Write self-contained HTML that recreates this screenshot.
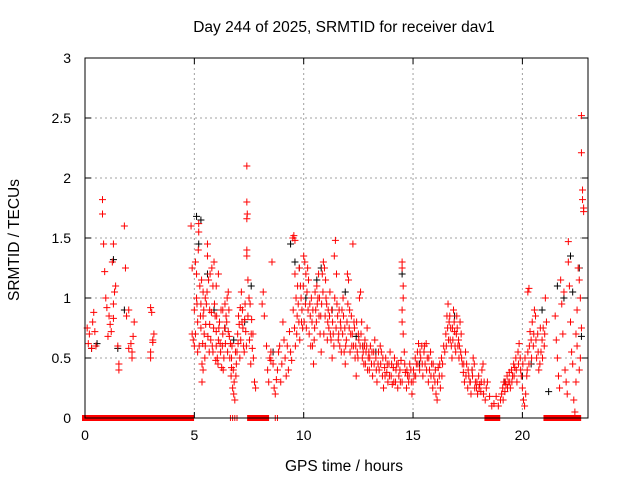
<!DOCTYPE html>
<html><head><meta charset="utf-8"><style>
body{margin:0;background:#fff}
svg{display:block;font-family:"Liberation Sans",sans-serif}
</style></head><body>
<svg id="chart" width="640" height="480" viewBox="0 0 640 480">
<text x="344" y="32" font-size="15.5" text-anchor="middle">Day 244 of 2025, SRMTID for receiver dav1</text>
<text x="344" y="471" font-size="15.5" text-anchor="middle">GPS time / hours</text>
<text transform="translate(19,240) rotate(-90)" font-size="15.5" text-anchor="middle">SRMTID / TECUs</text>
<g id="grid"></g>
<g id="marks"></g>
<rect x="85" y="58" width="503" height="360" fill="none" stroke="#000" stroke-width="1"/>
<g id="ticks"></g>
</svg>
<script>
const xTicks=[0,5,10,15,20];
const yTicks=[0,0.5,1,1.5,2,2.5,3];
const yTickLabels=["0","0.5","1","1.5","2","2.5","3"];
const redT=[0.1,0.2,0.3,0.35,0.4,0.45,0.5,0.15,0.8,0.8,0.85,0.9,0.95,1.0,1.1,1.15,1.2,1.25,1.3,1.3,1.35,1.4,1.5,1.55,1.55,1.3,1.05,1.8,1.85,1.9,2.0,2.1,2.15,2.15,2.2,2.25,2.0,3.0,3.05,3.1,3.1,3.0,3.0,3.15,
4.85,4.9,4.9,4.95,5.0,5.0,5.05,5.1,5.1,5.15,5.15,5.2,5.2,5.25,5.3,5.3,5.35,5.35,5.4,5.4,5.45,5.5,5.5,5.55,5.6,5.6,5.65,5.7,5.7,5.75,5.8,5.85,5.85,5.9,5.95,6.0,6.0,6.05,6.1,6.15,6.2,6.25,6.3,6.35,6.4,6.45,6.5,6.55,6.6,6.65,6.7,6.75,6.8,6.85,6.9,6.95,7.0,7.05,7.1,7.15,7.2,7.25,7.3,7.35,7.4,7.45,7.5,7.55,7.6,7.65,7.7,7.75,7.8,7.4,7.4,7.42,7.4,7.4,6.0,6.1,5.4,6.7,6.3,6.55,
8.1,8.15,8.2,8.3,8.35,8.4,8.45,8.5,8.55,8.5,8.6,8.65,8.7,8.75,8.8,8.85,8.9,8.95,9.0,9.05,9.1,9.15,9.2,9.25,9.3,9.35,9.4,9.45,9.5,9.55,9.6,9.6,9.65,9.7,9.75,9.8,9.85,9.9,9.95,10.0,10.05,10.1,10.15,10.2,10.25,10.3,10.35,10.4,10.45,10.5,10.55,10.6,10.65,10.7,10.75,10.8,10.85,10.9,10.95,11.0,11.05,11.1,11.15,11.2,11.25,11.3,11.35,11.4,11.45,11.5,11.55,11.6,11.65,11.7,11.75,11.8,11.85,11.9,11.95,12.0,12.05,12.1,12.15,12.2,12.25,12.3,12.35,12.4,12.45,12.5,12.55,12.6,12.65,12.7,12.75,12.8,12.85,12.9,12.95,13.0,13.05,13.1,13.15,13.2,13.25,13.3,13.35,13.4,13.45,13.5,13.55,13.6,13.65,13.7,13.75,13.8,13.85,13.9,13.95,14.0,14.05,14.1,14.15,14.2,14.25,14.3,14.35,14.4,14.45,14.5,14.55,14.5,14.5,14.55,14.5,14.5,14.55,14.6,14.65,14.7,14.75,14.8,14.85,14.9,14.95,15.0,15.05,15.1,15.15,15.2,15.25,15.3,15.35,15.4,15.45,15.5,15.55,15.6,15.65,15.7,15.75,15.8,15.85,15.9,15.95,16.0,16.05,16.1,16.15,16.2,16.25,16.3,16.35,16.4,16.45,16.5,16.55,16.6,16.65,16.7,16.75,16.8,16.85,16.9,16.95,17.0,17.05,17.1,17.15,17.2,17.25,17.3,17.35,17.4,17.45,17.5,17.55,17.6,17.65,17.7,17.75,17.8,17.85,17.9,17.95,18.0,18.05,18.1,18.15,18.2,18.25,18.3,18.35,18.4,18.5,18.6,18.7,18.8,18.9,19.0,19.05,19.1,19.15,19.2,19.25,19.3,19.35,19.4,19.45,19.5,19.55,19.6,19.65,19.7,19.75,19.8,19.85,19.9,19.95,20.0,20.05,20.1,20.15,20.2,20.25,20.3,20.35,20.4,20.45,20.5,20.55,20.6,20.65,20.7,20.75,20.8,20.85,20.9,20.95,21.0,21.05,21.1,20.3,20.25,
21.5,21.55,21.6,21.65,21.7,21.75,21.8,21.85,21.9,21.95,22.0,22.05,22.1,22.1,22.15,22.2,22.25,22.3,22.35,22.4,22.45,22.5,22.55,22.6,22.65,22.7,22.7,22.7,22.75,22.75,22.8,22.8,22.65,22.6,22.5,22.45];
const redV=[0.75,0.7,0.58,0.8,0.88,0.72,0.6,0.62,1.82,1.7,1.45,1.22,1.0,0.92,0.85,0.78,0.72,1.3,1.45,0.95,1.05,1.1,0.6,0.4,0.45,0.83,0.68,1.6,1.25,0.85,0.58,0.62,0.55,0.5,0.68,0.8,0.9,0.92,0.88,0.65,0.63,0.55,0.5,0.7,
1.6,1.25,0.7,0.65,0.9,0.6,1.3,1.2,1.0,0.8,0.55,1.62,1.55,1.1,0.95,0.75,0.45,0.3,1.05,0.85,0.7,0.6,1.0,0.95,1.45,1.35,1.15,0.9,0.78,0.65,1.25,1.1,0.55,1.3,0.85,0.6,0.72,0.5,0.65,0.8,0.55,0.42,0.7,0.5,0.95,0.85,1.0,0.72,0.68,0.62,0.42,0.25,0.2,0.15,0.35,0.55,0.62,0.78,0.92,1.05,0.9,0.6,0.82,0.72,1.35,1.15,1.0,0.95,0.7,0.58,0.5,0.3,0.25,1.4,1.66,1.7,1.8,2.1,1.1,1.2,0.4,0.5,0.9,1.05,
0.95,1.05,0.85,0.6,0.4,0.3,0.5,0.55,1.3,0.48,0.45,0.25,0.2,0.32,0.4,0.55,0.6,0.3,0.45,0.8,0.65,0.5,0.35,0.6,0.4,0.72,0.55,0.48,1.5,1.52,1.48,1.2,1.0,0.85,0.95,1.25,1.1,0.8,0.75,1.35,1.3,1.2,1.05,0.9,0.7,0.85,1.0,0.6,0.45,0.75,0.9,1.1,1.0,0.85,0.7,0.55,1.2,1.3,1.25,1.15,0.95,0.8,0.75,1.05,0.65,0.5,0.7,1.35,1.48,1.2,0.85,0.7,0.6,0.75,0.9,1.0,0.55,0.45,0.65,1.2,1.15,0.9,0.7,0.6,1.45,0.8,0.5,0.35,0.55,0.7,1.0,1.05,0.8,0.6,0.45,0.65,0.55,0.75,0.5,0.4,0.6,0.45,0.35,0.55,0.65,0.5,0.3,0.45,0.4,0.6,0.55,0.35,0.25,0.42,0.5,0.38,0.3,0.45,0.55,0.35,0.28,0.42,0.5,0.3,0.45,0.25,0.35,0.4,0.48,0.3,0.7,0.8,0.9,1.0,1.3,1.25,1.1,0.55,0.38,0.25,0.35,0.3,0.45,0.4,0.2,0.3,0.35,0.5,0.45,0.55,0.62,0.4,0.5,0.6,0.35,0.55,0.45,0.62,0.5,0.3,0.4,0.55,0.45,0.25,0.35,0.3,0.2,0.15,0.42,0.35,0.25,0.5,0.45,0.6,0.55,0.7,0.85,0.95,0.8,0.65,0.6,0.75,0.9,0.72,0.55,0.85,0.6,0.5,0.8,0.7,0.45,0.38,0.3,0.55,0.45,0.25,0.35,0.3,0.2,0.4,0.5,0.45,0.3,0.25,0.2,0.35,0.28,0.22,0.4,0.45,0.3,0.15,0.25,0.3,0.18,0.1,0.12,0.18,0.1,0.15,0.2,0.25,0.3,0.22,0.28,0.35,0.3,0.38,0.25,0.4,0.35,0.45,0.42,0.5,0.3,0.55,0.62,0.5,0.35,0.25,0.15,0.1,0.2,0.35,0.55,0.45,0.72,0.65,0.8,0.6,0.9,0.85,0.5,0.7,0.4,0.45,0.55,0.65,0.75,0.6,1.0,0.8,1.08,1.05,
0.85,0.65,0.5,0.35,0.25,1.15,0.95,0.7,1.05,0.4,0.3,0.2,1.3,1.47,1.1,0.8,0.55,0.45,0.15,0.05,0.7,0.9,1.25,1.15,1.0,0.75,2.52,2.21,1.9,1.82,1.75,1.72,0.5,0.4,0.6,0.3];
const redT2=[5.05,5.12,5.18,5.22,5.28,5.33,5.38,5.43,5.48,5.52,5.58,5.62,5.68,5.72,5.78,5.82,5.88,5.92,5.98,6.02,6.08,6.12,6.18,6.22,6.28,6.32,6.38,6.42,6.48,6.52,6.58,6.62,6.68,6.72,6.78,6.82,6.88,6.92,6.98,7.02,7.08,7.12,7.18,7.22,7.28,7.32,7.38,7.45,7.52,7.58,7.62,7.68,
9.52,9.58,9.62,9.68,9.72,9.78,9.82,9.88,9.92,9.98,10.02,10.08,10.12,10.18,10.22,10.28,10.32,10.38,10.42,10.48,10.52,10.58,10.62,10.68,10.72,10.78,10.82,10.88,10.92,10.98,11.02,11.08,11.12,11.18,11.22,11.28,11.32,11.38,11.42,11.48,11.52,11.58,11.62,11.68,11.72,11.78,11.82,11.88,11.92,11.98,12.02,12.08,12.12,12.18,12.22,12.28,12.32,12.38,12.42,12.48,12.52,12.58,12.62,12.68,12.72,12.78,12.82,12.88,12.92,12.98,
13.02,13.12,13.22,13.32,13.42,13.52,13.62,13.72,13.82,13.92,14.02,14.12,14.22,14.32,14.42,14.62,14.72,14.82,14.92,15.02,15.12,15.22,15.32,15.42,15.52,15.62,15.72,15.82,15.92,16.02,16.12,16.22,16.32,
16.52,16.58,16.62,16.68,16.72,16.78,16.82,16.88,16.92,16.98,17.02,17.08,17.12,17.18,17.22,17.32,17.42,17.52,17.62,17.72,17.82,17.92,18.02,18.12,18.22,
19.12,19.22,19.32,19.42,19.52,19.62,19.72,19.82,19.92,20.02,20.12,20.22,20.32,20.42,20.52,20.62,20.72,20.82,20.92,21.02];
const redV2=[0.7,0.95,1.4,0.6,0.85,1.15,0.62,0.9,0.5,0.78,1.05,0.68,0.55,1.2,0.88,0.6,0.75,0.95,0.48,0.85,0.45,0.75,0.62,0.9,0.6,0.4,0.75,0.62,0.8,0.55,0.9,0.5,0.35,0.6,0.4,0.3,0.55,0.45,0.7,0.85,0.5,0.65,0.8,0.75,0.55,0.95,0.6,0.85,0.65,0.45,0.82,0.7,
0.9,0.75,0.6,0.7,1.1,0.8,0.65,1.0,0.9,1.1,0.8,0.95,0.75,1.25,1.15,0.95,0.6,0.8,0.9,0.65,1.05,0.8,0.95,1.2,1.0,0.85,0.95,1.05,0.7,0.85,1.0,0.65,0.9,0.85,0.7,0.9,0.8,0.6,1.0,0.75,0.95,0.65,0.9,0.8,0.55,0.7,0.85,0.75,0.6,0.8,0.95,0.75,0.55,0.85,0.7,0.6,0.75,0.6,0.8,0.5,0.65,0.6,0.7,0.5,0.55,0.6,0.45,0.6,0.4,0.55,
0.5,0.55,0.45,0.4,0.55,0.45,0.5,0.35,0.45,0.35,0.45,0.3,0.4,0.45,0.3,0.45,0.4,0.35,0.3,0.4,0.35,0.45,0.55,0.45,0.6,0.4,0.5,0.35,0.45,0.4,0.3,0.45,0.35,
0.6,0.75,0.65,0.85,0.75,0.5,0.65,0.8,0.6,0.7,0.75,0.65,0.6,0.55,0.5,0.45,0.35,0.4,0.3,0.35,0.25,0.3,0.25,0.3,0.2,
0.15,0.3,0.25,0.3,0.3,0.35,0.4,0.45,0.4,0.45,0.5,0.4,0.6,0.5,0.7,0.65,0.55,0.75,0.5,0.7];
const blackT=[0.3,0.55,1.3,1.5,1.8,5.1,5.2,5.3,5.6,5.9,6.4,6.8,7.3,7.6,8.6,9.4,9.6,9.8,10.1,10.6,10.8,11.3,11.9,12.4,12.7,13.3,13.9,14.5,15.3,16.9,17.7,19.2,20.0,20.4,20.9,21.2,21.6,21.9,22.2,22.3,22.6,22.7];
const blackV=[0.58,0.62,1.32,0.58,0.9,1.68,1.45,1.65,1.2,0.9,0.75,0.65,0.8,1.1,0.55,1.45,1.3,1.25,1.0,1.15,1.25,0.9,1.05,0.68,0.6,0.55,0.45,1.2,0.45,0.85,0.4,0.3,0.35,0.45,0.9,0.22,1.1,1.0,1.35,1.05,1.25,0.68];
const zeroStart=[0,0.41,1.51,2.33,3.38,4.53,6.65,6.75,6.85,6.95,7.55,8.7,8.8,18.4,21.1,22.1];
const zeroEnd=[0.32,1.46,2.19,3.29,4.34,4.85,6.65,6.75,6.85,6.95,8.28,8.7,8.8,18.85,21.9,22.55];
const NS="http://www.w3.org/2000/svg";
const X0=85,X1=588,Y0=418,Y1=58,XMAX=23,YMAX=3;
const sx=t=>X0+t/XMAX*(X1-X0);
const sy=v=>Y0-v/YMAX*(Y0-Y1);
function mk(tag,attrs,parent){const e=document.createElementNS(NS,tag);for(const k in attrs)e.setAttribute(k,attrs[k]);parent.appendChild(e);return e;}
const grid=document.getElementById('grid'),ticks=document.getElementById('ticks'),marks=document.getElementById('marks');
xTicks.forEach(t=>{
  if(t>0){const g=mk('line',{x1:sx(t),x2:sx(t),y1:Y1,y2:Y0,stroke:'#a0a0a0','stroke-dasharray':'2,3'},grid);
  
  }
  const tk=mk('path',{d:`M${sx(t)},${Y0}v-6M${sx(t)},${Y1}v6`,stroke:'#000'},ticks);
  
  
  const lb=mk('text',{x:sx(t),y:Y0+22,'font-size':14,'text-anchor':'middle'},ticks);
  lb.textContent=t;
  
  
});
yTicks.forEach((v,i)=>{
  if(v>0&&v<YMAX){const g=mk('line',{x1:X0,x2:X1,y1:sy(v),y2:sy(v),stroke:'#a0a0a0','stroke-dasharray':'2,3'},grid);
  
  }
  const tk=mk('path',{d:`M${X0},${sy(v)}h6M${X1},${sy(v)}h-6`,stroke:'#000'},ticks);
  
  
  const lb=mk('text',{x:X0-14,y:sy(v)+5,'font-size':14,'text-anchor':'end'},ticks);
  lb.textContent=yTickLabels[i];
  
  
});
function plus(t,v,color,name){
  const x=sx(t),y=sy(v);
  const p=mk('path',{d:`M${x-3.5},${y}h7M${x},${y-3.5}v7`,stroke:color,'stroke-width':1},marks);
  
  
}
blackT.forEach((t,i)=>plus(t,blackV[i],'#000','black-point'));
redT.forEach((t,i)=>plus(t,redV[i],'#f00','red-point'));
redT2.forEach((t,i)=>plus(t,redV2[i],'#f00','red-point'));
zeroStart.forEach((s,i)=>{
  const x=sx(s),w=sx(zeroEnd[i])-x;
  if(w<1){
    const p=mk('path',{d:`M${x},${Y0-3}v6`,stroke:'#f00','stroke-width':1},marks);
    
    
  } else {
    const r=mk('rect',{x:x-3,y:Y0-3,width:w+6,height:6,fill:'#f00'},marks);
    
    
  }
});
</script>
</body></html>
